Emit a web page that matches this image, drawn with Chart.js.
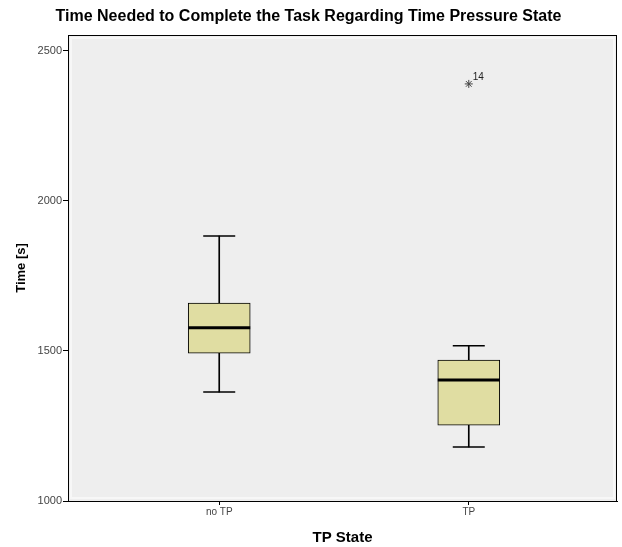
<!DOCTYPE html>
<html>
<head>
<meta charset="utf-8">
<title>Time Needed to Complete the Task</title>
<script src="https://cdn.jsdelivr.net/npm/chart.js@4/dist/chart.umd.min.js"></script>
<style>
    html, body { margin: 0; padding: 0; background: #ffffff; overflow: hidden; }
    .chart-wrap { width: 622px; height: 547px; position: relative; }
</style>
</head>
<body>
<div class="chart-wrap"><canvas id="boxChart"></canvas></div>
<script>
// Data
const categories = ['no TP', 'TP'];
const lowerWhisker = [1363, 1180];
const q1 = [1493, 1253];
const median = [1577, 1403];
const q3 = [1660, 1470];
const upperWhisker = [1883, 1517];
const outlierValues = [null, 2390];
const outlierLabels = [null, '14'];
const yTicks = [1000, 1500, 2000, 2500];

document.addEventListener('DOMContentLoaded', function() {
    const font = "'Liberation Sans', Arial, sans-serif";
    const boxColor = '#e0dda2';

    // helpers to turn the arrays into {x, y} points on the linear x axis
    const pts = arr => arr.map((v, i) => ({ x: i, y: v })).filter(p => p.y !== null);
    const ranges = (lo, hi) => lo.map((v, i) => ({ x: i, y: [v, hi[i]] }));

    // Plot background + frame
    const framePlugin = {
        id: 'frame',
        beforeDatasetsDraw(chart) {
            const a = chart.chartArea;
            const ctx = chart.ctx;
            ctx.save();
            ctx.fillStyle = '#eeeeee';
            ctx.fillRect(a.left, a.top, a.right - a.left, a.bottom - a.top);
            ctx.strokeStyle = '#f7f7f7';
            ctx.lineWidth = 2;
            ctx.strokeRect(a.left + 3, a.top + 3, a.right - a.left - 6, a.bottom - a.top - 6);
            ctx.restore();
        },
        afterDraw(chart) {
            const a = chart.chartArea;
            const ctx = chart.ctx;
            ctx.save();
            ctx.strokeStyle = '#000000';
            ctx.lineWidth = 1;
            ctx.strokeRect(a.left + 0.5, a.top + 0.5, a.right - a.left - 1, a.bottom - a.top);
            ctx.restore();
        }
    };

    // Case number next to the outlier
    const outlierLabelPlugin = {
        id: 'outlierLabel',
        afterDatasetsDraw(chart) {
            const xs = chart.scales.x;
            const ys = chart.scales.y;
            const ctx = chart.ctx;
            ctx.save();
            ctx.font = '10px ' + font;
            ctx.fillStyle = '#222222';
            ctx.textBaseline = 'bottom';
            outlierValues.forEach((v, i) => {
                if (v === null) return;
                ctx.fillText(outlierLabels[i], xs.getPixelForValue(i) + 4, ys.getPixelForValue(v) - 2);
            });
            ctx.restore();
        }
    };

    const ctx = document.getElementById('boxChart').getContext('2d');
    new Chart(ctx, {
        type: 'bar',
        data: {
            datasets: [
                {
                    // whisker stems
                    type: 'bar',
                    data: ranges(lowerWhisker, upperWhisker),
                    backgroundColor: '#000000',
                    barThickness: 1,
                    grouped: false,
                    order: 4
                },
                {
                    // boxes
                    type: 'bar',
                    data: ranges(q1, q3),
                    backgroundColor: boxColor,
                    borderColor: '#000000',
                    borderWidth: 1,
                    borderSkipped: false,
                    barThickness: 62,
                    grouped: false,
                    order: 3
                },
                {
                    // medians
                    type: 'line',
                    data: pts(median),
                    showLine: false,
                    pointStyle: 'line',
                    pointRadius: 31,
                    pointBorderWidth: 3,
                    pointBorderColor: '#000000',
                    order: 2
                },
                {
                    // whisker caps
                    type: 'line',
                    data: pts(lowerWhisker).concat(pts(upperWhisker)),
                    showLine: false,
                    pointStyle: 'line',
                    pointRadius: 16,
                    pointBorderWidth: 1.5,
                    pointBorderColor: '#000000',
                    order: 1
                },
                {
                    // extreme outlier
                    type: 'line',
                    data: pts(outlierValues),
                    showLine: false,
                    pointStyle: 'star',
                    pointRadius: 4,
                    pointBorderWidth: 1,
                    pointBorderColor: '#444444',
                    order: 0
                }
            ]
        },
        options: {
            responsive: true,
            maintainAspectRatio: false,
            animation: false,
            // the wide median markers would otherwise push the plot in
            layout: { autoPadding: false, padding: { left: 0, right: 5, top: 0, bottom: 0 } },
            plugins: {
                legend: { display: false },
                tooltip: { enabled: false },
                title: {
                    display: true,
                    text: 'Time Needed to Complete the Task Regarding Time Pressure State',
                    color: '#000000',
                    font: { family: font, size: 16, weight: 'bold', lineHeight: 1.2 },
                    padding: { top: 7, bottom: 8.8 }
                }
            },
            scales: {
                x: {
                    type: 'linear',
                    min: -0.606,
                    max: 1.594,
                    offset: false,
                    afterBuildTicks: function(scale) {
                        scale.ticks = categories.map((c, i) => ({ value: i }));
                    },
                    afterFit: function(scale) {
                        scale.height = 46;
                    },
                    ticks: {
                        color: '#444444',
                        font: { family: font, size: 10 },
                        padding: 1,
                        maxRotation: 0,
                        callback: function(value) {
                            return categories[value];
                        }
                    },
                    grid: {
                        offset: false,
                        drawOnChartArea: false,
                        tickLength: 4,
                        color: '#000000'
                    },
                    border: { color: '#000000', width: 1 },
                    title: {
                        display: true,
                        text: 'TP State',
                        color: '#000000',
                        font: { family: font, size: 15, weight: 'bold', lineHeight: 1.2 },
                        padding: { top: 0, bottom: 0 }
                    }
                },
                y: {
                    type: 'linear',
                    min: 1000,
                    max: 2553,
                    afterBuildTicks: function(scale) {
                        scale.ticks = yTicks.map(v => ({ value: v }));
                    },
                    afterFit: function(scale) {
                        scale.width = 68;
                    },
                    ticks: {
                        color: '#444444',
                        font: { family: font, size: 11 },
                        padding: 1,
                        callback: function(value) {
                            return String(value);
                        }
                    },
                    grid: {
                        drawOnChartArea: false,
                        tickLength: 5,
                        color: '#000000'
                    },
                    border: { color: '#000000', width: 1 },
                    title: {
                        display: true,
                        text: 'Time [s]',
                        color: '#000000',
                        font: { family: font, size: 13, weight: 'bold', lineHeight: 1.2 },
                        padding: { top: 14, bottom: 0 }
                    }
                }
            }
        },
        plugins: [framePlugin, outlierLabelPlugin]
    });
});
</script>
</body>
</html>
